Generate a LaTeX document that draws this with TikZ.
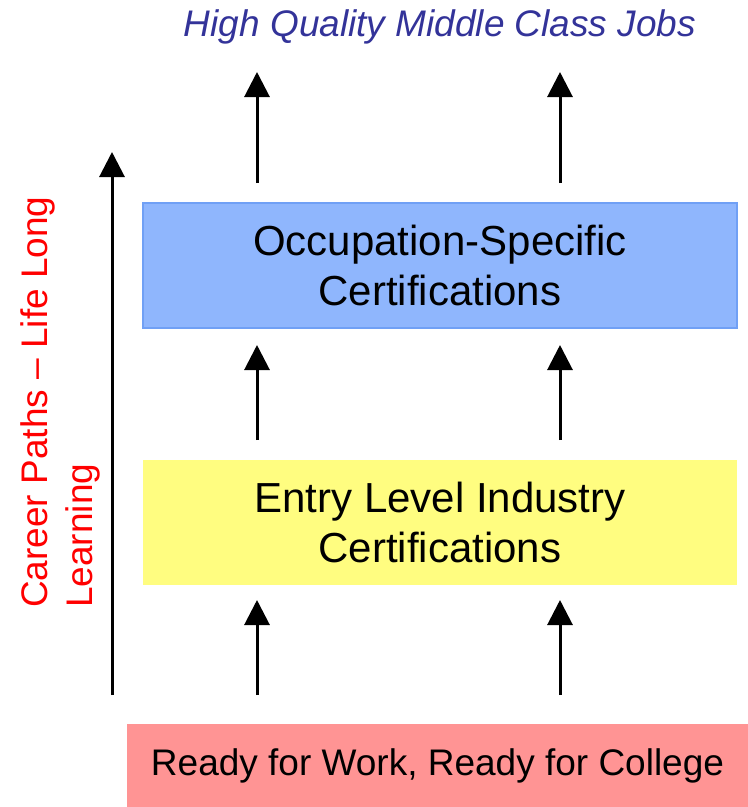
\documentclass[tikz,border=0pt]{standalone}
\usepackage{fontspec}
\setmainfont{Liberation Sans}
\usepackage{tikz}
\usetikzlibrary{arrows.meta}
\definecolor{jobblue}{RGB}{51,51,153}
\definecolor{occblue}{RGB}{143,182,253}
\definecolor{occedge}{RGB}{112,160,245}
\definecolor{entryyellow}{RGB}{255,253,128}
\definecolor{readyred}{RGB}{255,148,148}

\begin{document}
\begin{tikzpicture}[x=1pt, y=-1pt,
    box/.style={minimum width=594pt, minimum height=125pt, align=center, inner sep=0pt, font=\fontsize{42}{50}\selectfont},
    up/.style={-{Triangle[width=25pt, length=25pt]}, line width=3pt}]
    \useasboundingbox (0,0) rectangle (748,807);
    \node(jobs)[text=jobblue, font=\fontsize{37}{44}\selectfont\itshape] at (440,27) {High Quality Middle Class Jobs};
    \node(occ)[box, fill=occblue, draw=occedge, line width=1.5pt] at (440,265.5) {Occupation-Specific\\Certifications};
    \node(entry)[box, fill=entryyellow] at (440,522) {Entry Level Industry\\Certifications};
    \node(ready)[fill=readyred, minimum width=621pt, minimum height=83pt, inner sep=0pt, font=\fontsize{37}{44}\selectfont] at (437.5,765.5) {Ready for Work, Ready for College};
    \node(career)[rotate=90, anchor=north west, align=left, inner sep=0pt, text=red, font=\fontsize{37}{45}\selectfont] at (20,608) {Career Paths -- Life Long\\Learning};
    \coordinate(l1) at (257,695);
    \coordinate(l2) at (257,600);
    \coordinate(l3) at (257,440);
    \coordinate(l4) at (257,345);
    \coordinate(l5) at (257,183);
    \coordinate(l6) at (257,72);
    \coordinate(r1) at (560,695);
    \coordinate(r2) at (560,600);
    \coordinate(r3) at (560,440);
    \coordinate(r4) at (560,345);
    \coordinate(r5) at (560,183);
    \coordinate(r6) at (560,72);
    \coordinate(c1) at (112,695);
    \coordinate(c2) at (112,152);
    \draw[up] (l1) -- (l2);
    \draw[up] (l3) -- (l4);
    \draw[up] (l5) -- (l6);
    \draw[up] (r1) -- (r2);
    \draw[up] (r3) -- (r4);
    \draw[up] (r5) -- (r6);
    \draw[up] (c1) -- (c2);
\end{tikzpicture}
\end{document}
